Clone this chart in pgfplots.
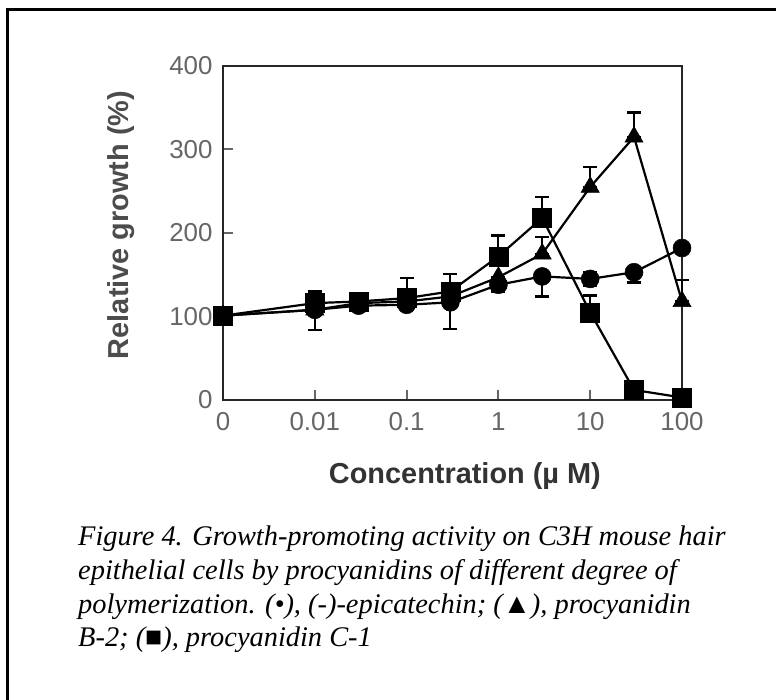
\documentclass[border=0pt]{standalone}
\usepackage{fontspec}
\setmainfont{Liberation Sans}
\newfontfamily\capfont{Liberation Serif}
\usepackage{pgfplots}
\pgfplotsset{compat=1.18}
\usepackage{pgfplotstable}

% concentration 0 is drawn at 0.001 on the log axis
\pgfplotstableread{
x     y    ep  em
0.001 101  0   0
0.01  108  6   6
0.03  113  0   0
0.1   114  0   0
0.3   117  0   32
1     138  8   8
3     148  0   24
10    145  8   8
30    153  0   12
100   182  5   5
}\epicat

\pgfplotstableread{
x     y    ep  em
0.001 101  0   0
0.01  108  0   24
0.03  116  0   0
0.1   118  0   0
0.3   124  0   0
1     147  0   0
3     175  20  0
10    255  24  0
30    315  29  0
100   118  26  0
}\bII

\pgfplotstableread{
x     y    ep  em
0.001 101  0   0
0.01  116  14  0
0.03  118  0   0
0.1   122  24  0
0.3   130  21  0
1     172  25  0
3     218  25  0
10    105  20  0
30    12   0   0
100   3    0   0
}\cI

\begin{document}
\begin{tikzpicture}[x=1bp,y=1bp]
\useasboundingbox (0,0) rectangle (776,700);
\draw[line width=3bp] (7,-10) -- (7,690) -- (790,690);

\begin{axis}[
    at={(223bp,300bp)}, anchor=south west,
    scale only axis, width=459bp, height=334bp,
    xmode=log, xmin=0.001, xmax=100,
    ymin=0, ymax=400,
    clip=false,
    axis line style={line width=2.5bp, black!85},
    xtick={0.001,0.01,0.1,1,10,100},
    xticklabels={\mbox{0},\mbox{0.01},\mbox{0.1},\mbox{1},\mbox{10},\mbox{100}},
    ytick={0,100,200,300,400},
    /pgf/number format/assume math mode=true,
    minor tick num=0, xminorticks=false,
    xtick pos=bottom, ytick pos=left,
    tick align=inside,
    major tick length=10bp,
    tick style={line width=2bp, black!60},
    ticklabel style={font=\fontsize{26}{28}\selectfont, text=black!60},
    yticklabel style={xshift=-7bp},
    xticklabel style={yshift=-9bp},
    xlabel={Concentration (µ M)},
    ylabel={Relative growth (\%)},
    xlabel style={at={(axis description cs:0.527,-0.228)}, anchor=center,
        font=\bfseries\fontsize{29}{31}\selectfont, text=black!80},
    ylabel style={at={(axis description cs:-0.222,0.524)}, anchor=center, rotate=0,
        font=\bfseries\fontsize{29}{31}\selectfont, text=black!70},
    every axis plot/.append style={black, line width=2.2bp},
    error bars/error bar style={line width=2bp},
    error bars/error mark options={rotate=90, mark size=7bp, line width=2.5bp},
]
\addplot[mark=*, mark size=9bp, mark options={solid, line width=0.5bp},
    error bars/.cd, y dir=both, y explicit]
    table[x=x, y=y, y error plus=ep, y error minus=em] {\epicat};
\addplot[mark=triangle*, mark size=10.5bp, mark options={solid, line width=0.5bp},
    error bars/.cd, y dir=both, y explicit]
    table[x=x, y=y, y error plus=ep, y error minus=em] {\bII};
\addplot[mark=square*, mark size=9.5bp, mark options={solid, line width=0.5bp},
    error bars/.cd, y dir=both, y explicit]
    table[x=x, y=y, y error plus=ep, y error minus=em] {\cI};
\end{axis}

\node[anchor=base west, align=left, inner sep=0pt,
      font=\capfont\itshape\fontsize{28.5}{34}\selectfont]
  at (78,53) {Figure 4. Growth-promoting activity on C3H mouse hair\\
  epithelial cells by procyanidins of different degree of\\
  polymerization. (•), (-)-epicatechin; ({\upshape ▲}), procyanidin\\
  B-2; ({\upshape ■}), procyanidin C-1};
\end{tikzpicture}
\end{document}
